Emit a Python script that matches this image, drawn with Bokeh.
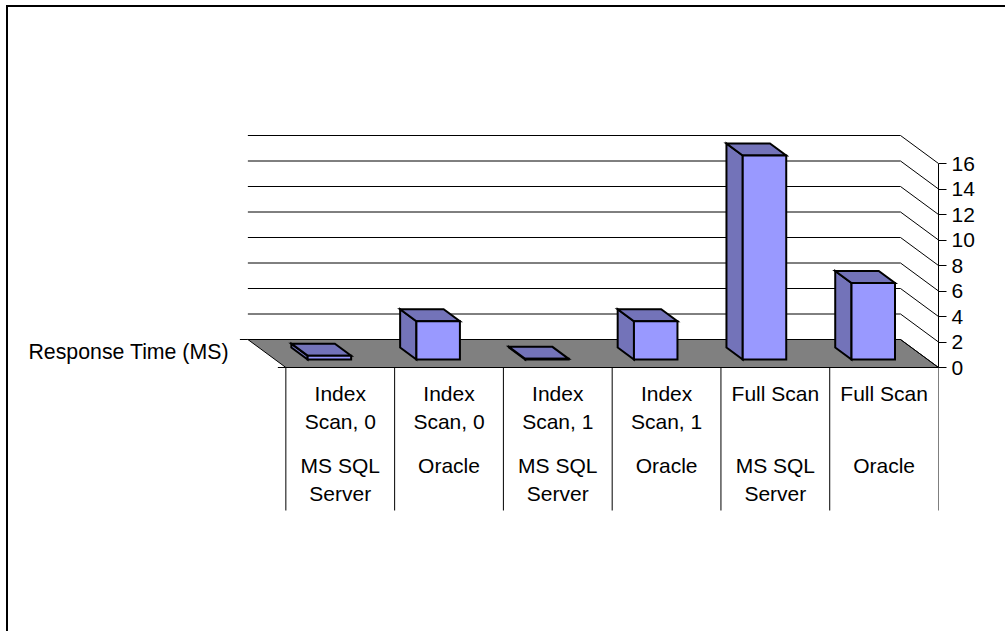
from bokeh.plotting import figure
from bokeh.models import Range1d, FixedTicker, ColumnDataSource, LabelSet, Label
from bokeh.core.properties import value
from bokeh.embed import file_html
from bokeh.resources import INLINE

# ---- data
scan_labels = ["Index\nScan, 0", "Index\nScan, 0", "Index\nScan, 1", "Index\nScan, 1", "Full Scan", "Full Scan"]
db_labels = ["MS SQL\nServer", "Oracle", "MS SQL\nServer", "Oracle", "MS SQL\nServer", "Oracle"]
response_ms = [0.3, 3.0, 0.05, 3.0, 16.0, 6.0]
value_ticks = [0, 2, 4, 6, 8, 10, 12, 14, 16]
value_title = "Response Time (MS)"

# ---- projection geometry
CAT_PX = 653 / 6
UNIT_PX = 12.75
ORIGIN_X, ORIGIN_Y = 285.5, 367.0
W, H = 1005, 631
BOX_LEFT, BOX_TOP, BORDER = 6, 5, 2
LEFT_EDGE, TOP_EDGE = BOX_LEFT + BORDER, BOX_TOP + BORDER
DEPTH_X = -38 / CAT_PX   # wall depth, in category units
DEPTH_Y = 28 / UNIT_PX   # wall depth, in value units
BAR_NEAR = 8 / 28        # where the bars stand on the floor
BAR_FAR = 20 / 28
BAR_L, BAR_R = 0.30, 0.70
FONT = "Liberation Sans"
FSIZE = "21px"
FRONT, SIDE, FLOOR = "#9999ff", "#7373b9", "#808080"
n = len(response_ms)


def P(c, v, d=0.0):
    return c + d * DEPTH_X, v + d * DEPTH_Y


def poly(pts):
    return [q[0] for q in pts], [q[1] for q in pts]


def from_px(px, py):
    return (px - ORIGIN_X) / CAT_PX, (ORIGIN_Y - py) / UNIT_PX


# the canvas is as large as the box and starts inside its border
x0, y1 = from_px(LEFT_EDGE, TOP_EDGE)
x1, _ = from_px(ORIGIN_X + 6 * CAT_PX, 0)
_, y0 = from_px(0, H + BORDER)

p = figure(width=W - BOX_LEFT, height=H - BOX_TOP, x_range=Range1d(x0, x1), y_range=Range1d(y0, y1),
           output_backend="svg", toolbar_location=None, y_axis_location="right",
           min_border_left=0, min_border_top=0, min_border_bottom=0,
           min_border_right=W + BORDER - int(ORIGIN_X + 6 * CAT_PX))
p.styles = {"position": "absolute", "left": f"{BOX_LEFT}px", "top": f"{BOX_TOP}px", "box-sizing": "border-box",
            "border-left": f"{BORDER}px solid black", "border-top": f"{BORDER}px solid black"}
p.xaxis.visible = False
p.grid.visible = False
p.outline_line_color = None
p.background_fill_color = "white"
p.border_fill_color = "white"

ax = p.yaxis[0]
ax.ticker = FixedTicker(ticks=value_ticks)
ax.bounds = (value_ticks[0], value_ticks[-1])
ax.axis_line_color = "black"
ax.major_tick_line_color = "black"
ax.major_tick_in = 0
ax.major_tick_out = 8
ax.minor_tick_line_color = None
ax.major_label_standoff = 5
ax.major_label_text_font = FONT
ax.major_label_text_font_size = FSIZE
ax.major_label_text_color = "black"

# floor
fx, fy = poly([P(0, 0), P(6, 0), P(6, 0, 1), P(0, 0, 1)])
p.patch(fx, fy, fill_color=FLOOR, line_color="black", line_width=1)

# gridlines on wall + diagonal on side wall
gx, gy = [], []
for t in value_ticks:
    a, b, c = P(0, t, 1), P(6, t, 1), P(6, t)
    gx.append([a[0], b[0], c[0]])
    gy.append([a[1], b[1], c[1]])
p.multi_line(gx, gy, line_color="black", line_width=1)

# depth stubs on the left of the floor, and category dividers
stub = 8 / CAT_PX
p.segment([P(0, 0, 1)[0] - stub, -stub], [P(0, 0, 1)[1], 0],
          [P(0, 0, 1)[0], 0], [P(0, 0, 1)[1], 0], line_color="black", line_width=1)
div_bottom = from_px(0, 510)[1]
div = list(range(n + 1))
p.segment(div, [0] * (n + 1), div, [div_bottom] * (n + 1), line_color="black", line_width=1)

# bars
for i, v in enumerate(response_ms):
    l, r = i + BAR_L, i + BAR_R
    fl, fr = P(l, 0, BAR_NEAR), P(r, 0, BAR_NEAR)
    tfl, tfr = P(l, v, BAR_NEAR), P(r, v, BAR_NEAR)
    tbl, tbr = P(l, v, BAR_FAR), P(r, v, BAR_FAR)
    bl = P(l, 0, BAR_FAR)
    for pts, col in (([bl, fl, tfl, tbl], SIDE), ([tfl, tfr, tbr, tbl], SIDE), ([fl, fr, tfr, tfl], FRONT)):
        xs, ys = poly(pts)
        p.patch(xs, ys, fill_color=col, line_color="black", line_width=2, line_join="miter")

# category text
LINE = 28 / UNIT_PX
tx, ty, tt = [], [], []
scan_top = from_px(0, 393)[1]
db_top = from_px(0, 465)[1]
for i in range(n):
    for k, s in enumerate(scan_labels[i].split("\n")):
        tx.append(i + 0.5); ty.append(scan_top - k * LINE); tt.append(s)
    for k, s in enumerate(db_labels[i].split("\n")):
        tx.append(i + 0.5); ty.append(db_top - k * LINE); tt.append(s)
src = ColumnDataSource(dict(x=tx, y=ty, t=tt))
p.add_layout(LabelSet(x="x", y="y", text="t", source=src, text_align="center",
                      text_baseline="middle", text_font=value(FONT), text_font_size=value(FSIZE),
                      text_color="black"))

tx0, ty0 = from_px(28, 351)
p.add_layout(Label(x=tx0, y=ty0, text=value_title, text_align="left", text_baseline="middle",
                   text_font=FONT, text_font_size="21.3px", text_color="black"))

open("out.html", "w").write(file_html(p, INLINE))
